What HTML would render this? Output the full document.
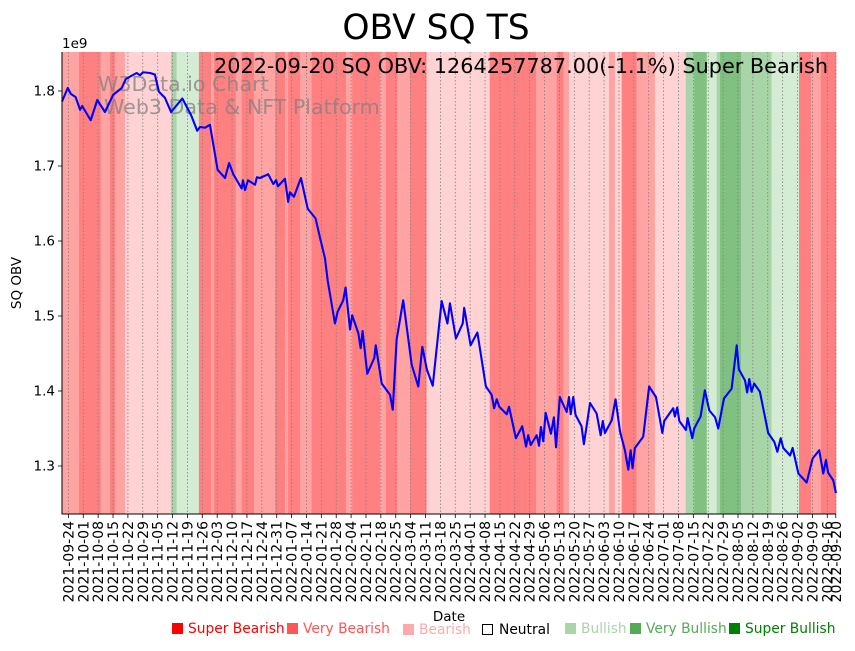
<!DOCTYPE html>
<html><head><meta charset="utf-8">
<style>
body{margin:0;background:#fff;}
svg text{font-family:"DejaVu Sans","Liberation Sans",sans-serif;}
</style></head>
<body>
<svg id="chart" width="855" height="646" viewBox="0 0 855 646" xmlns="http://www.w3.org/2000/svg">
<text x="436" y="39" font-size="34.5" text-anchor="middle">OBV SQ TS</text>
<g id="bands"></g>
<g id="grid"></g>
<text x="98" y="91" font-size="20.6" fill="#808080" fill-opacity="0.75">W3Data.io Chart</text>
<text x="104" y="114" font-size="20.6" fill="#808080" fill-opacity="0.75">Web3 Data &amp; NFT Platform</text>
<g id="series"></g>
<text x="214" y="73" font-size="20.8">2022-09-20 SQ OBV: 1264257787.00(-1.1%) Super Bearish</text>
<g id="axes"></g>
<text x="62" y="48" font-size="13.5">1e9</text>
<text transform="translate(21,283) rotate(-90)" font-size="13.5" text-anchor="middle">SQ OBV</text>
<text x="449" y="621" font-size="13.5" text-anchor="middle">Date</text>
<g id="legend" font-size="13.8">
<rect x="172" y="623" width="11" height="11" fill="#ff0000"/>
<text x="188" y="633" fill="#ff0000">Super Bearish</text>
<rect x="287" y="623" width="11" height="11" fill="#ff5555"/>
<text x="303" y="633" fill="#ff5555">Very Bearish</text>
<rect x="403" y="624" width="11" height="11" fill="#ffaaaa"/>
<text x="419" y="634" fill="#ffaaaa">Bearish</text>
<rect x="482.5" y="624.5" width="10" height="10" fill="none" stroke="#000"/>
<text x="499" y="634" fill="#000">Neutral</text>
<rect x="565" y="623" width="11" height="11" fill="#aad4aa"/>
<text x="581" y="633" fill="#aad4aa">Bullish</text>
<rect x="630" y="623" width="11" height="11" fill="#55aa55"/>
<text x="646" y="633" fill="#55aa55">Very Bullish</text>
<rect x="729" y="623" width="11" height="11" fill="#008000"/>
<text x="745" y="633" fill="#008000">Super Bullish</text>
</g>
</svg>
<script>
// days since 2021-09-21
const days=[0,2.7,4.2,6.4,8.5,9.5,13.5,16.6,20.2,24.1,28.1,30.0,32.5,35.1,36.7,38.1,41.4,43.7,45.6,48.4,51.3,56.6,60.7,63.6,64.9,67.3,69.6,73.2,76.7,78.6,80.6,84.5,85.1,86.1,87.5,90.8,91.7,93.1,97.0,99.4,100.7,101.6,104.9,106.4,107.2,109.1,112.4,115.6,119.3,121.4,123.7,125.0,128.4,129.7,132.3,133.4,135.5,136.5,139.4,140.5,141.4,143.6,146.9,147.6,150.4,154.3,155.6,157.4,160.5,164.5,167.6,169.5,171.6,174.4,178.6,181.3,182.5,185.3,188.5,189.2,192.2,195.4,199.4,202.1,203.3,204.5,205.7,209.2,210.3,213.5,216.5,218.3,219.3,220.5,223.3,224.4,225.3,226.4,227.5,230.0,231.4,232.4,234.2,237.4,238.5,239.3,240.5,241.6,244.4,245.5,248.4,251.5,253.4,254.4,255.4,258.6,260.4,262.5,264.8,266.4,267.5,268.4,269.5,273.4,276.2,279.4,282.4,283.3,287.5,288.3,289.4,290.4,293.5,294.3,296.5,297.4,300.4,302.4,304.5,307.2,308.7,311.4,315.0,317.4,318.4,321.3,322.3,323.3,324.4,325.6,328.3,332.2,335.1,336.5,338.1,339.3,342.5,343.7,346.4,350.3,353.1,356.2,358.1,359.4,360.4,362.8,364.1];
// OBV in units of 1e9
const obv=[1.786,1.804,1.796,1.792,1.775,1.780,1.761,1.788,1.772,1.795,1.804,1.816,1.820,1.824,1.821,1.825,1.824,1.822,1.799,1.791,1.772,1.790,1.768,1.747,1.752,1.751,1.755,1.695,1.684,1.704,1.689,1.670,1.681,1.668,1.681,1.675,1.685,1.684,1.689,1.676,1.681,1.673,1.683,1.652,1.665,1.659,1.684,1.643,1.630,1.604,1.577,1.547,1.490,1.506,1.521,1.538,1.482,1.501,1.477,1.457,1.480,1.423,1.444,1.461,1.410,1.395,1.375,1.468,1.521,1.435,1.406,1.459,1.429,1.407,1.520,1.490,1.517,1.470,1.490,1.511,1.461,1.478,1.406,1.395,1.377,1.389,1.379,1.369,1.379,1.337,1.353,1.326,1.341,1.328,1.341,1.327,1.352,1.333,1.371,1.343,1.365,1.325,1.392,1.372,1.392,1.369,1.392,1.368,1.353,1.329,1.384,1.370,1.341,1.360,1.344,1.361,1.389,1.346,1.321,1.295,1.321,1.297,1.324,1.339,1.406,1.392,1.344,1.360,1.377,1.366,1.378,1.360,1.348,1.364,1.337,1.350,1.366,1.401,1.374,1.365,1.350,1.390,1.403,1.461,1.429,1.414,1.398,1.416,1.399,1.410,1.399,1.344,1.332,1.319,1.337,1.324,1.314,1.324,1.290,1.278,1.310,1.321,1.290,1.308,1.291,1.281,1.264];
// signal bands: start day and state (3 super bearish .. -3 super bullish)
const bandStart=[0,8.0,18.2,22.6,24.9,29.6,51.3,53.9,64.4,70.1,71.5,81.8,84.5,90.3,100.2,104.9,106.4,111.9,117.4,133.6,136.5,149.6,152.4,157.7,163.7,171.5,201.2,223.0,232.7,235.8,238.5,257.3,260.1,263.3,270.3,278.9,293.4,297.4,303.3,308.0,309.5,319.4,333.8,346.7,352.3,357.0];
const bandState=[2,3,2,3,2,1,-2,-1,3,2,3,2,3,2,3,2,3,2,3,2,3,2,3,2,3,1,3,2,3,2,1,2,1,3,2,1,-2,-3,-1,-2,-3,-2,-1,3,2,3];
const yTicks=[1.3,1.4,1.5,1.6,1.7,1.8];

const NS="http://www.w3.org/2000/svg";
const L=62,R=836,T=52,B=514,D0=0,D1=364.1,Y0=1.236,Y1=1.852;
const sx=d=>L+(d-D0)/(D1-D0)*(R-L);
const sy=v=>B-(v-Y0)/(Y1-Y0)*(B-T);
const colors={"3":"#ff8080","2":"#ffa3a3","1":"#ffd3d3","-1":"#d4ebd4","-2":"#a8d5a8","-3":"#80c080"};
function mk(tag,attrs,parent){const e=document.createElementNS(NS,tag);for(const k in attrs)e.setAttribute(k,attrs[k]);parent.appendChild(e);return e;}
const gB=document.getElementById('bands');
for(let i=0;i<bandStart.length;i++){
  const x0=sx(bandStart[i]),x1=sx(i+1<bandStart.length?bandStart[i+1]:D1);
  const r=mk('rect',{x:x0,y:T,width:x1-x0+0.3,height:B-T,fill:colors[bandState[i]]},gB);
  
  
}
const gG=document.getElementById('grid'),gA=document.getElementById('axes');
const start=new Date(Date.UTC(2021,8,21));
const tickDays=[];for(let d=3;d<=364;d+=7)tickDays.push(d);tickDays.push(364);
tickDays.forEach(d=>{
  const x=sx(d);
  const gl=mk('line',{x1:x,x2:x,y1:T,y2:B,stroke:'#808080','stroke-width':0.8,'stroke-dasharray':'1.5,2'},gG);
  
  
  mk('line',{x1:x,x2:x,y1:B,y2:B+4,stroke:'#000','stroke-width':0.8},gA);
  const dt=new Date(start.getTime()+d*86400000);
  const lbl=dt.toISOString().slice(0,10);
  const t=mk('text',{transform:`translate(${x+5},${B+7}) rotate(-90)`,'font-size':14,'text-anchor':'end'},gA);
  t.textContent=lbl;
  
  
});
yTicks.forEach(v=>{
  const y=sy(v);
  mk('line',{x1:L-4,x2:L,y1:y,y2:y,stroke:'#000','stroke-width':0.8},gA);
  const t=mk('text',{x:L-7,y:y+4.5,'font-size':13.5,'text-anchor':'end'},gA);
  t.textContent=v.toFixed(1);
  
  
});
const ax=mk('path',{d:`M${L},${T}V${B}H${R}`,fill:'none',stroke:'#000','stroke-width':1},gA);


const line=mk('polyline',{points:days.map((d,i)=>sx(d)+','+sy(obv[i])).join(' '),fill:'none',stroke:'#0000ff','stroke-width':2.1,'stroke-linejoin':'round'},document.getElementById('series'));


</script>
</body></html>
